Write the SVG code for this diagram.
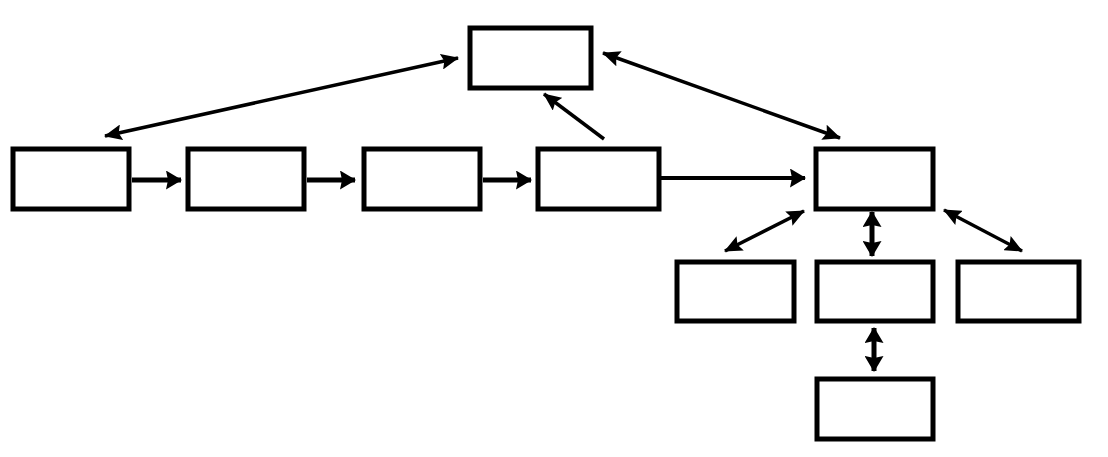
<svg xmlns="http://www.w3.org/2000/svg" width="1108" height="457" viewBox="0 0 1108 457">
<style>
.box{fill:#fff;stroke:#000;stroke-width:5}
.c{stroke:#000;stroke-width:3.5;fill:none}
.t{stroke-width:5}
</style>
<defs>
<marker id="ah" markerUnits="userSpaceOnUse" markerWidth="18" markerHeight="16" refX="17" refY="8" orient="auto-start-reverse" viewBox="0 0 18 16">
<path d="M0,0 L18,8 L0,16 L3,8 z" fill="#000"/>
</marker>
<marker id="ahb" markerUnits="userSpaceOnUse" markerWidth="16" markerHeight="19" refX="15" refY="9.5" orient="auto-start-reverse" viewBox="0 0 16 19">
<path d="M0,0 L16,9.5 L0,19 L2,9.5 z" fill="#000"/>
</marker>
</defs>
<rect width="1108" height="457" fill="#fff"/>
<g id="connectors">
<line class="c" x1="105" y1="136" x2="458" y2="58" marker-start="url(#ah)" marker-end="url(#ah)"/>
<line class="c" x1="603" y1="53" x2="840" y2="138" marker-start="url(#ah)" marker-end="url(#ah)"/>
<line class="c" x1="604" y1="139" x2="544" y2="94" marker-end="url(#ah)"/>
<line class="c t" x1="132" y1="180" x2="181" y2="180" marker-end="url(#ahb)"/>
<line class="c t" x1="307" y1="180" x2="355" y2="180" marker-end="url(#ahb)"/>
<line class="c t" x1="483" y1="180" x2="531" y2="180" marker-end="url(#ahb)"/>
<line class="c" style="stroke-width:4" x1="661" y1="178" x2="805" y2="178" marker-end="url(#ahb)"/>
<line class="c" x1="804" y1="211" x2="725" y2="251" marker-start="url(#ah)" marker-end="url(#ah)"/>
<line class="c t" x1="872" y1="212" x2="872" y2="256" marker-start="url(#ahb)" marker-end="url(#ahb)"/>
<line class="c" x1="944" y1="210" x2="1022" y2="251" marker-start="url(#ah)" marker-end="url(#ah)"/>
<line class="c t" x1="874" y1="328" x2="874" y2="371" marker-start="url(#ahb)" marker-end="url(#ahb)"/>
</g>
<g id="top"><rect class="box" x="470" y="28" width="121" height="60"/></g>
<g id="a"><rect class="box" x="13" y="149" width="116" height="60"/></g>
<g id="b"><rect class="box" x="188" y="149" width="116" height="60"/></g>
<g id="c"><rect class="box" x="364" y="149" width="116" height="60"/></g>
<g id="d"><rect class="box" x="538" y="149" width="121" height="60"/></g>
<g id="e"><rect class="box" x="816" y="149" width="117" height="60"/></g>
<g id="f"><rect class="box" x="677" y="262" width="117" height="59"/></g>
<g id="g"><rect class="box" x="817" y="262" width="116" height="59"/></g>
<g id="h"><rect class="box" x="958" y="262" width="121" height="59"/></g>
<g id="i"><rect class="box" x="817" y="379" width="116" height="60"/></g>
</svg>
